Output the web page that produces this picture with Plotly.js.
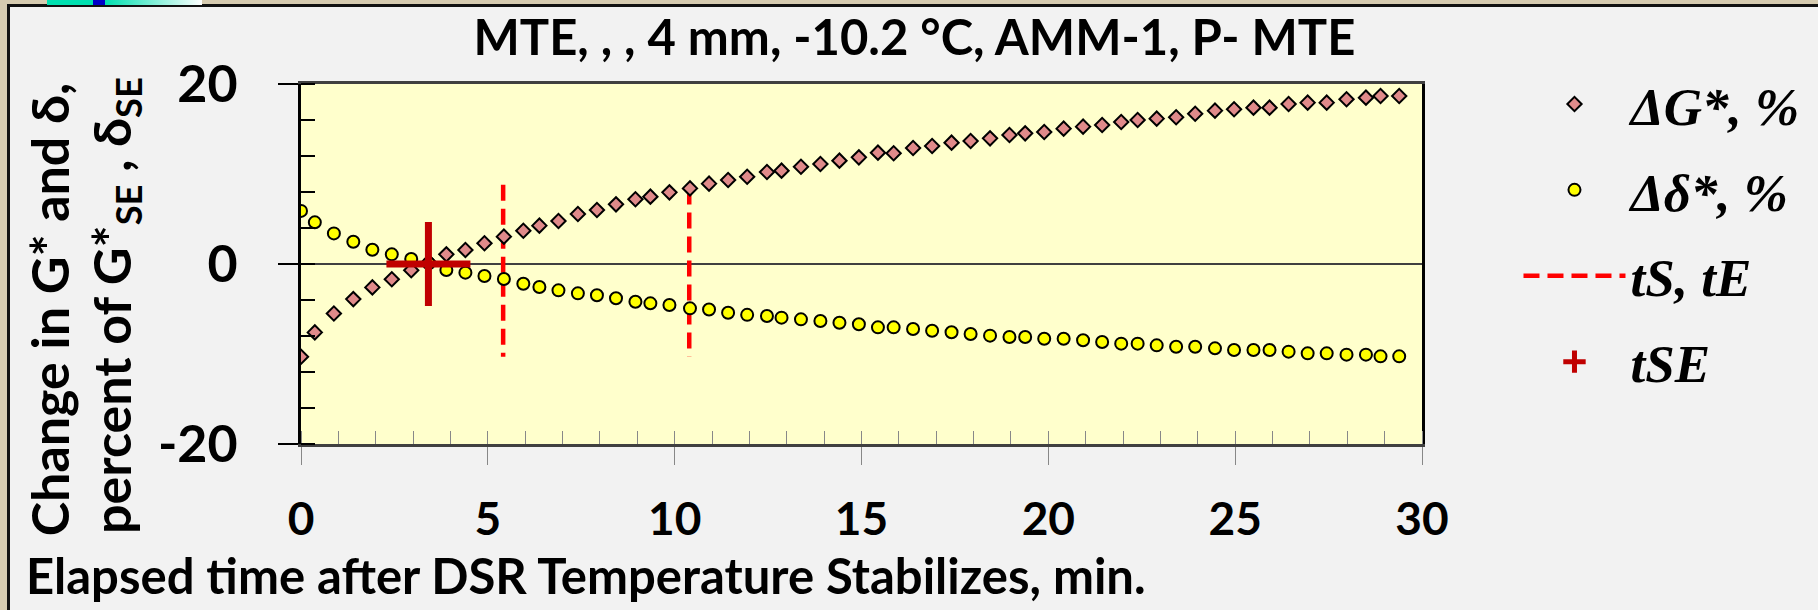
<!DOCTYPE html>
<html><head><meta charset="utf-8">
<script src="https://cdn.plot.ly/plotly-3.0.1.min.js"></script>
<style>
html,body{margin:0;padding:0;background:#f2f2f2;}
#wrap{position:relative;width:1818px;height:610px;overflow:hidden;}
#chart{position:absolute;left:0;top:0;width:1818px;height:610px;}
.deco{position:absolute;pointer-events:none;}
</style></head><body>
<div id="wrap"><div id="chart"></div>
<div class="deco" style="left:0;top:0;width:1818px;height:4px;background:#d6cbb0"></div>
<div class="deco" style="left:0;top:4px;width:1818px;height:3px;background:#111"></div>
<div class="deco" style="left:0;top:0;width:7px;height:610px;background:#d6cbb0"></div>
<div class="deco" style="left:7px;top:4px;width:3px;height:606px;background:#111"></div>
<div class="deco" style="left:47px;top:0;width:155px;height:5px;background:linear-gradient(to right,#00e0b0 0,#00e0b0 46px,#0000c8 46px,#0000c8 58px,#00e0b0 58px,#ffffff 155px)"></div>
</div>
<script>
// elapsed time (min)
const timeMin = [0, 0.37, 0.88, 1.40, 1.91, 2.43, 2.95, 3.42, 3.89, 4.40,
  4.91, 5.43, 5.95, 6.38, 6.89, 7.41, 7.92, 8.43, 8.95, 9.35,
  9.86, 10.41, 10.92, 11.43, 11.94, 12.47, 12.86, 13.38, 13.90, 14.41,
  14.93, 15.44, 15.86, 16.38, 16.89, 17.41, 17.92, 18.44, 18.96, 19.38,
  19.89, 20.41, 20.93, 21.44, 21.95, 22.39, 22.90, 23.42, 23.93, 24.46,
  24.97, 25.49, 25.92, 26.43, 26.94, 27.45, 27.98, 28.50, 28.89, 29.39];
// change in G*, % of G*SE
const deltaG = [-10.3, -7.6, -5.5, -3.9, -2.6, -1.7, -0.7, 0.2, 1.07, 1.56,
  2.3, 3.04, 3.7, 4.26, 4.78, 5.56, 6.0, 6.63, 7.19, 7.48,
  7.96, 8.4, 8.93, 9.33, 9.7, 10.22, 10.37, 10.81, 11.11, 11.48,
  11.85, 12.37, 12.3, 12.89, 13.11, 13.48, 13.67, 13.96, 14.33, 14.52,
  14.67, 15.04, 15.26, 15.44, 15.78, 16.0, 16.15, 16.3, 16.7, 17.04,
  17.19, 17.37, 17.37, 17.78, 17.93, 17.93, 18.3, 18.48, 18.67, 18.67];
// change in delta, % of deltaSE
const deltaDelta = [5.9, 4.63, 3.4, 2.48, 1.59, 1.07, 0.56, 0.07, -0.67, -0.96,
  -1.33, -1.67, -2.19, -2.56, -2.93, -3.26, -3.48, -3.81, -4.19, -4.37,
  -4.56, -4.93, -5.05, -5.41, -5.65, -5.78, -5.96, -6.15, -6.33, -6.52,
  -6.7, -7.04, -7.04, -7.22, -7.41, -7.59, -7.78, -7.96, -8.11, -8.11,
  -8.3, -8.3, -8.48, -8.67, -8.85, -8.85, -9.04, -9.19, -9.19, -9.37,
  -9.56, -9.56, -9.56, -9.74, -9.93, -9.93, -10.07, -10.07, -10.26, -10.26];
// tS and tE markers (vertical dashed lines)
const tSE_lines_x = [5.41, 5.41, null, 10.39, 10.39];
const tSE_lines_y = [8.8, -10.3, null, 8.4, -10.3];
// tSE point
const tSE_x = [3.41];
const tSE_y = [0];
const xTicks = [0, 5, 10, 15, 20, 25, 30];
const yTicks = [-20, 0, 20];

const sans = 'Lato, "Open Sans", sans-serif';
const serif = '"Liberation Serif", "Times New Roman", serif';

const traces = [
  {x: tSE_lines_x, y: tSE_lines_y, mode: 'lines', name: 'tS, tE', legendrank: 3, legendgroup: 'c',
   line: {color: '#ff0000', width: 4.5, dash: '16px,8px'}, hoverinfo: 'skip'},
  {x: timeMin, y: deltaG, mode: 'markers', name: 'ΔG*, %', legendrank: 1, legendgroup: 'a',
   marker: {symbol: 'diamond', size: 11, color: '#e08a8a', line: {color: '#000', width: 2}}},
  {x: timeMin, y: deltaDelta, mode: 'markers', name: 'Δδ*, %', legendrank: 2, legendgroup: 'b',
   marker: {symbol: 'circle', size: 12, color: '#ffff00', line: {color: '#000', width: 2}}},
  {x: tSE_x, y: tSE_y, mode: 'markers', name: 'tSE', legendrank: 4, legendgroup: 'd',
   marker: {symbol: 'cross-thin', size: 60, color: '#c00000', line: {color: '#c00000', width: 7}}}
];

const layout = {
  width: 1818, height: 610,
  margin: {l: 301, r: 390, t: 84, b: 166, pad: 0},
  paper_bgcolor: '#f2f2f2',
  plot_bgcolor: '#ffffcc',
  showlegend: true,
  title: {text: 'MTE, , , 4 mm, -10.2 °C, AMM-1, P- MTE', x: 0.503, xanchor: 'center',
          y: 1 - 38/610, yref: 'container', yanchor: 'middle',
          font: {family: sans, size: 49, weight: 'bold', color: '#000'}},
  xaxis: {range: [0, 30], tickvals: xTicks, ticktext: xTicks.map(String),
          showgrid: false, zeroline: false,
          showline: true, linecolor: '#404040', linewidth: 3, mirror: true,
          ticks: 'outside', ticklen: 18, tickwidth: 1, tickcolor: '#888',
          ticklabelstandoff: 15,
          minor: {dtick: 1, ticks: 'inside', ticklen: 13, tickwidth: 1, tickcolor: '#888', showgrid: false},
          tickfont: {family: sans, size: 46, weight: 'bold', color: '#000'}},
  xaxis2: {range: [0, 30], overlaying: 'x', anchor: 'y', side: 'bottom', matches: 'x',
           tickvals: xTicks, showticklabels: false, showgrid: false, zeroline: false, showline: false,
           ticks: 'inside', ticklen: 17, tickwidth: 1, tickcolor: '#888'},
  yaxis: {range: [-20, 20], tickvals: yTicks, ticktext: yTicks.map(String),
          showgrid: false, zeroline: true, zerolinecolor: '#404040', zerolinewidth: 1.5,
          showline: true, linecolor: '#000', linewidth: 3, mirror: true,
          ticks: 'outside', ticklen: 20, tickwidth: 1.5, tickcolor: '#000',
          ticklabelstandoff: 30,
          minor: {dtick: 4, ticks: 'inside', ticklen: 14, tickwidth: 1.5, tickcolor: '#000', showgrid: false},
          tickfont: {family: sans, size: 52, weight: 'bold', color: '#000'}},
  legend: {x: (1525 - 301) / 1127, xanchor: 'left', y: (444 - 63) / 360, yanchor: 'top',
           bgcolor: 'rgba(0,0,0,0)', borderwidth: 0, itemwidth: 102, maxheight: 560,
           traceorder: 'grouped', tracegroupgap: 14,
           font: {family: serif, size: 53, weight: 'bold', style: 'italic', color: '#000'}},
  annotations: [
    {text: 'Elapsed time after DSR Temperature Stabilizes, min.', xref: 'paper', yref: 'paper',
     x: (23 - 301) / 1127, y: (444 - 575) / 360, xanchor: 'left', yanchor: 'middle', showarrow: false,
     font: {family: sans, size: 49, weight: 'bold', color: '#000'}},
    {text: 'Change in G* and δ,', xref: 'paper', yref: 'paper', textangle: -90,
     x: (48 - 301) / 1127, y: (444 - 309) / 360, xanchor: 'center', yanchor: 'middle', showarrow: false,
     font: {family: sans, size: 52, weight: 'bold', color: '#000'}},
    {text: 'percent of G*<sub>SE</sub> , δ<sub>SE</sub>', xref: 'paper', yref: 'paper', textangle: -90,
     x: (114 - 301) / 1127, y: (444 - 305) / 360, xanchor: 'center', yanchor: 'middle', showarrow: false,
     font: {family: sans, size: 52, weight: 'bold', color: '#000'}}
  ]
};

Plotly.newPlot('chart', traces, layout, {displayModeBar: false, staticPlot: true});
</script>
</body></html>
